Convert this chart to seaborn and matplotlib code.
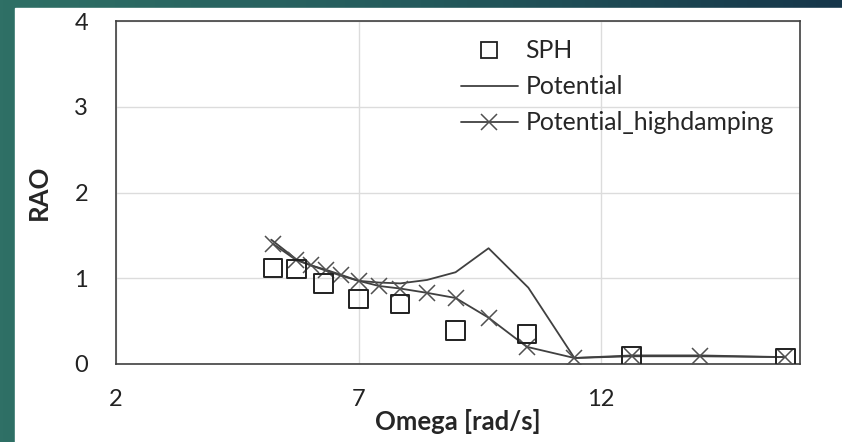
import numpy as np
import matplotlib
matplotlib.use('Agg')
import matplotlib.pyplot as plt
from matplotlib.lines import Line2D
from matplotlib.patches import Rectangle
import seaborn as sns
import pandas as pd

# values
sph_omega = [5.24, 5.72, 6.28, 7.0, 7.86, 9.0, 10.47, 12.63, 15.8]
sph_rao = [1.12, 1.11, 0.94, 0.76, 0.70, 0.39, 0.35, 0.09, 0.07]

pot_omega = [5.2, 5.72, 6.02, 6.32, 6.64, 7.0, 7.42, 7.86, 8.41, 9.0, 9.68, 10.5, 11.45, 12.63, 14.04, 15.8]
pot_rao = [1.45, 1.22, 1.15, 1.09, 1.03, 0.97, 0.95, 0.94, 0.98, 1.07, 1.35, 0.89, 0.07, 0.10, 0.10, 0.08]

hd_omega = [5.24, 5.72, 6.02, 6.32, 6.64, 7.0, 7.42, 7.86, 8.41, 9.0, 9.68, 10.47, 11.45, 12.63, 14.04, 15.8]
hd_rao = [1.40, 1.21, 1.15, 1.10, 1.04, 0.97, 0.91, 0.88, 0.83, 0.77, 0.54, 0.20, 0.07, 0.09, 0.09, 0.08]

x_ticks = [2, 7, 12]
y_ticks = [0, 1, 2, 3, 4]

sns.set_style('white')
plt.rcParams['font.family'] = ['Lato', 'DejaVu Sans']

line_col = '#404040'

fig = plt.figure(figsize=(8.42, 4.42), dpi=100)

# slide background: teal gradient with white panel
bg = fig.add_axes([0, 0, 1, 1], zorder=-10)
grad = np.linspace(0, 1, 256).reshape(1, -1)
cmap = matplotlib.colors.LinearSegmentedColormap.from_list('bg', ['#2f7066', '#245a5c', '#16364a'])
bg.imshow(grad, aspect='auto', cmap=cmap, extent=[0, 1, 0, 1])
bg.add_patch(Rectangle((15 / 842, 0), 1, 1 - 8 / 442, color='white', transform=bg.transAxes))
bg.set_axis_off()

ax = fig.add_axes([116 / 842, 1 - 364 / 442, (800 - 116) / 842, (364 - 21) / 442])

pot_df = pd.DataFrame({'omega': pot_omega, 'rao': pot_rao})
hd_df = pd.DataFrame({'omega': hd_omega, 'rao': hd_rao})
sph_df = pd.DataFrame({'omega': sph_omega, 'rao': sph_rao})

sns.lineplot(data=pot_df, x='omega', y='rao', ax=ax, color=line_col, lw=1.3, zorder=3)
sns.lineplot(data=hd_df, x='omega', y='rao', ax=ax, color=line_col, lw=1.3,
             marker='x', markersize=12, markeredgewidth=1.1, markeredgecolor='#505050', zorder=4)
sns.scatterplot(data=sph_df, x='omega', y='rao', ax=ax, marker='s', s=175,
                facecolor='none', edgecolor='#202020', linewidth=1.4, zorder=5)

ax.set_xlim(2, 16.1)
ax.set_ylim(0, 4)
ax.set_xticks(x_ticks)
ax.set_yticks(y_ticks)
ax.grid(True, color='#dcdcdc', lw=1)
ax.set_axisbelow(True)
for s in ax.spines.values():
    s.set_color('#404040')
    s.set_linewidth(1.2)
ax.tick_params(axis='both', length=0, labelsize=17, colors='#222222', pad=20)
ax.tick_params(axis='x', pad=18)
ax.set_xlabel('Omega [rad/s]', fontsize=18.5, fontweight='bold', labelpad=-1)
ax.set_ylabel('RAO', fontsize=18.5, fontweight='bold', labelpad=17)

handles = [
    Line2D([], [], ls='none', marker='s', markersize=12, mfc='none', mec='#202020', mew=1.3),
    Line2D([], [], color=line_col, lw=1.3),
    Line2D([], [], color=line_col, lw=1.3, marker='x', markersize=12, mec='#505050', mew=1.1),
]
ax.legend(handles, ['SPH', 'Potential', 'Potential_highdamping'], loc='upper left',
          bbox_to_anchor=(0.49, 0.975), frameon=False, fontsize=17.8, handlelength=2.3,
          handletextpad=0.3, labelspacing=0.52, borderaxespad=0)

fig.savefig('out.png', dpi=100)
